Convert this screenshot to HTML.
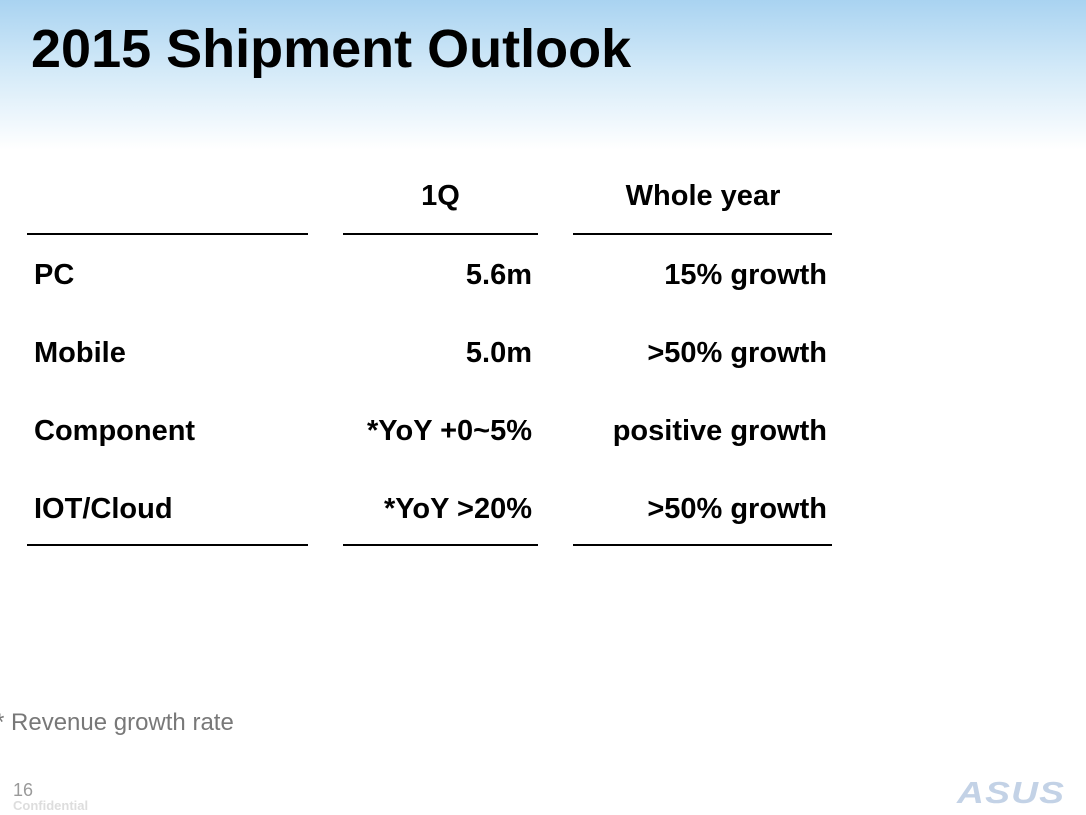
<!DOCTYPE html>
<html><head><meta charset="utf-8"><style>
body{margin:0;width:1086px;height:815px;overflow:hidden;background:#fff;font-family:"Liberation Sans",Arial,sans-serif;position:relative}
.bg{position:absolute;left:0;top:0;width:1086px;height:150px;background:linear-gradient(#a9d3f1 0%,#d2e9f8 45%,#fff 100%)}
.t{position:absolute;white-space:nowrap;font-weight:bold;color:#000}
.line{position:absolute;height:2px;background:#000}
.r{text-align:right}
.c{text-align:center}
.cell{font-size:29px;line-height:34px}
</style></head><body>
<div class="bg"></div>
<div class="t" style="left:31px;top:17px;font-size:54px;line-height:64px">2015 Shipment Outlook</div>
<div>
<div class="t c cell" style="left:343px;width:195px;top:179px">1Q</div>
<div class="t c cell" style="left:573px;width:260px;top:179px">Whole year</div>
<div class="line" style="left:27px;width:281px;top:233px"></div>
<div class="line" style="left:343px;width:195px;top:233px"></div>
<div class="line" style="left:573px;width:259px;top:233px"></div>

<div class="t cell" style="left:34px;top:258px">PC</div>
<div class="t r cell" style="left:300px;width:232px;top:258px">5.6m</div>
<div class="t r cell" style="left:540px;width:287px;top:258px">15% growth</div>

<div class="t cell" style="left:34px;top:336px">Mobile</div>
<div class="t r cell" style="left:300px;width:232px;top:336px">5.0m</div>
<div class="t r cell" style="left:540px;width:287px;top:336px">&gt;50% growth</div>

<div class="t cell" style="left:34px;top:414px">Component</div>
<div class="t r cell" style="left:300px;width:232px;top:414px">*YoY +0~5%</div>
<div class="t r cell" style="left:540px;width:287px;top:414px">positive growth</div>

<div class="t cell" style="left:34px;top:492px">IOT/Cloud</div>
<div class="t r cell" style="left:300px;width:232px;top:492px">*YoY &gt;20%</div>
<div class="t r cell" style="left:540px;width:287px;top:492px">&gt;50% growth</div>

<div class="line" style="left:27px;width:281px;top:544px"></div>
<div class="line" style="left:343px;width:195px;top:544px"></div>
<div class="line" style="left:573px;width:259px;top:544px"></div>
</div>
<div class="t" style="left:-5px;top:708px;font-size:24px;line-height:30px;font-weight:normal;color:#787878">* Revenue growth rate</div>
<div class="t" style="left:13px;top:779px;font-size:18px;line-height:22px;font-weight:normal;color:#9a9a9a">16</div>
<div class="t" style="left:13px;top:798px;font-size:13px;line-height:16px;color:#ddd">Confidential</div>
<div class="t" style="left:957px;top:776px;font-size:31px;line-height:34px;color:#c3d2e6;font-style:italic;letter-spacing:1px;transform:scaleX(1.2);transform-origin:left">ASUS</div>
</body></html>
